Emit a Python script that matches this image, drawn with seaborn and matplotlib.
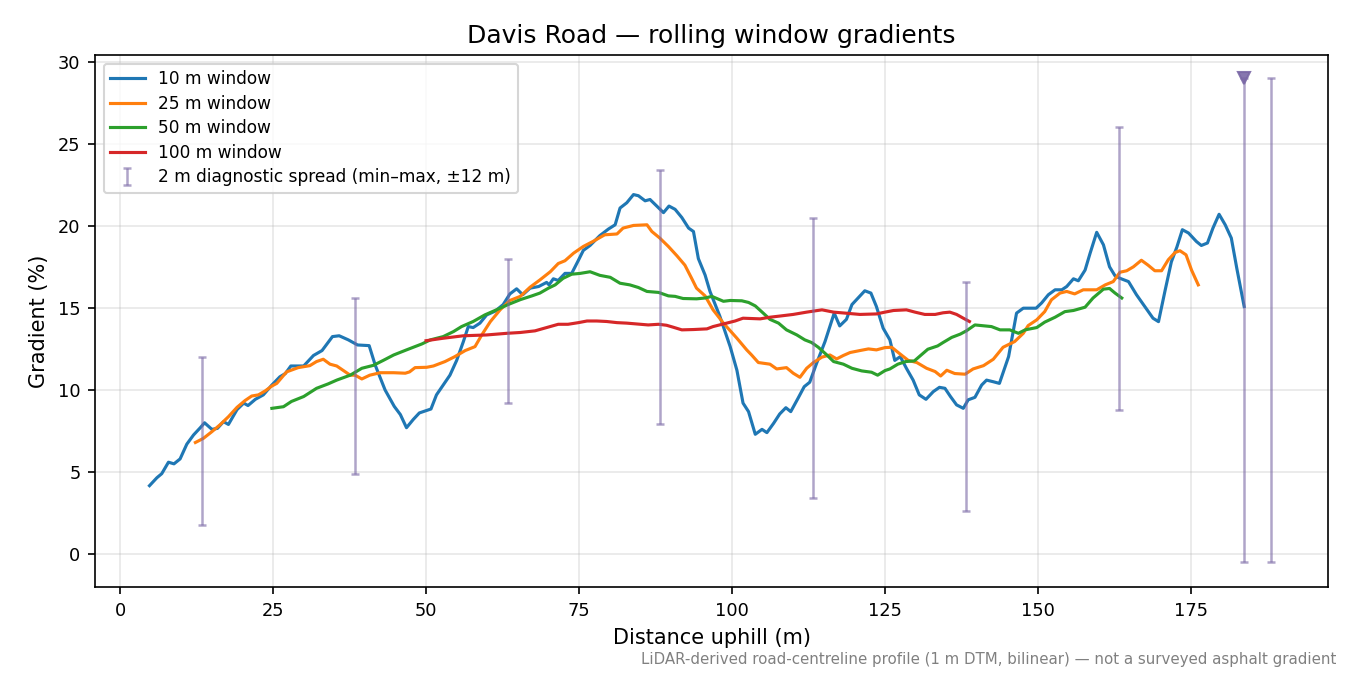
import numpy as np
import pandas as pd
import matplotlib
matplotlib.use("Agg")
import matplotlib.pyplot as plt
import seaborn as sns

# ---------------- data ----------------
w10_x = [4.8, 6.0, 6.8, 7.9, 8.8, 9.8, 10.9, 12.0, 13.1, 13.8,
         15.0, 15.9, 16.9, 17.7, 19.1, 20.2, 20.9, 22.1, 23.4, 24.8,
         26.1, 27.0, 27.9, 30.0, 31.6, 33.0, 34.7, 35.8, 37.3, 38.8,
         40.7, 41.7, 43.3, 44.8, 45.8, 46.8, 47.9, 48.9, 50.8, 51.7,
         52.8, 53.9, 55.0, 56.1, 56.9, 57.7, 58.8, 59.9, 61.3, 62.6,
         63.7, 64.8, 65.8, 67.0, 68.4, 69.7, 70.1, 70.8, 71.6, 72.7,
         73.8, 74.9, 75.7, 76.8, 78.4, 79.8, 80.9, 81.7, 82.8, 83.9,
         84.7, 85.8, 86.6, 87.7, 88.8, 89.7, 90.7, 91.8, 92.9, 93.7,
         94.5, 95.6, 96.4, 98.0, 99.7, 100.8, 101.8, 102.7, 103.8, 104.9,
         105.7, 106.8, 107.8, 108.8, 109.6, 110.8, 111.8, 112.7, 113.8, 115.2,
         116.7, 117.6, 118.7, 119.6, 120.6, 121.7, 122.7, 123.6, 124.7, 125.8,
         126.6, 127.5, 128.5, 129.6, 130.6, 131.7, 132.9, 133.9, 134.8, 135.7,
         136.7, 137.8, 138.6, 139.7, 140.8, 141.6, 142.7, 143.7, 145.2, 146.5,
         147.6, 149.7, 150.6, 151.7, 152.8, 153.9, 154.7, 155.8, 156.6, 157.7,
         158.5, 159.6, 160.7, 161.7, 162.6, 163.4, 164.8, 166.1, 167.8, 168.8,
         169.7, 170.8, 171.8, 172.7, 173.6, 174.6, 175.9, 176.7, 177.7, 178.6,
         179.6, 180.6, 181.6, 182.5, 183.7]
w10_y = [4.17, 4.65, 4.9, 5.6, 5.5, 5.8, 6.7, 7.26, 7.7, 8.0,
         7.6, 7.66, 8.07, 7.9, 8.8, 9.2, 9.05, 9.43, 9.7, 10.3,
         10.8, 11.0, 11.46, 11.46, 12.1, 12.4, 13.25, 13.3, 13.05, 12.74,
         12.7, 11.5, 10.0, 9.0, 8.5, 7.7, 8.2, 8.6, 8.84, 9.7,
         10.3, 10.9, 11.8, 12.95, 13.86, 13.8, 14.07, 14.57, 14.8, 15.2,
         15.85, 16.16, 15.8, 16.2, 16.3, 16.55, 16.4, 16.77, 16.67, 17.1,
         17.1, 17.9, 18.5, 18.8, 19.4, 19.8, 20.06, 21.08, 21.4, 21.9,
         21.83, 21.52, 21.6, 21.2, 20.8, 21.2, 21.0, 20.5, 19.86, 19.65,
         18.0, 17.0, 16.0, 14.5, 12.64, 11.2, 9.2, 8.68, 7.3, 7.6,
         7.4, 7.97, 8.54, 8.92, 8.68, 9.5, 10.2, 10.47, 11.6, 12.95,
         14.68, 13.9, 14.3, 15.2, 15.6, 16.04, 15.9, 15.08, 13.76, 13.05,
         11.8, 12.03, 11.32, 10.6, 9.7, 9.43, 9.9, 10.16, 10.1, 9.6,
         9.09, 8.88, 9.4, 9.55, 10.3, 10.6, 10.5, 10.4, 12.03, 14.68,
         14.98, 14.98, 15.3, 15.8, 16.1, 16.1, 16.3, 16.77, 16.65, 17.3,
         18.3, 19.6, 18.84, 17.5, 16.95, 16.8, 16.6, 15.8, 14.9, 14.37,
         14.16, 16.1, 17.8, 18.7, 19.76, 19.56, 19.04, 18.8, 18.95, 19.86,
         20.7, 20.06, 19.25, 17.4, 15.08]

w25_x = [12.3, 13.6, 15.0, 16.3, 17.7, 19.1, 20.4, 21.5, 22.6, 23.7,
         24.8, 25.6, 27.2, 29.1, 31.0, 32.1, 33.2, 34.3, 35.4, 36.5,
         37.6, 38.4, 39.5, 40.8, 42.5, 44.7, 46.6, 47.3, 48.2, 50.1,
         51.2, 53.1, 54.7, 56.4, 58.0, 59.1, 60.5, 62.1, 63.7, 65.4,
         67.0, 68.6, 70.3, 71.6, 72.7, 74.1, 75.7, 77.3, 79.2, 81.2,
         82.2, 83.9, 86.1, 86.9, 88.2, 89.6, 91.0, 92.3, 93.4, 94.2,
         95.6, 96.9, 98.6, 100.8, 102.4, 103.2, 104.3, 106.2, 107.3, 108.9,
         110.0, 111.1, 112.2, 113.3, 114.7, 116.0, 117.1, 118.2, 119.3, 120.9,
         122.3, 123.6, 125.0, 126.1, 127.5, 128.8, 130.2, 131.8, 133.2, 134.1,
         135.1, 136.4, 138.1, 139.4, 141.1, 142.7, 144.3, 146.2, 147.6, 148.4,
         149.8, 151.1, 152.2, 153.6, 154.7, 156.0, 157.4, 159.6, 161.0, 162.3,
         163.4, 164.5, 165.6, 166.9, 168.0, 169.1, 170.2, 171.3, 172.4, 173.2,
         174.2, 175.1, 176.2]
w25_y = [6.8, 7.05, 7.46, 7.87, 8.37, 8.94, 9.35, 9.63, 9.7, 9.94,
         10.24, 10.4, 11.1, 11.36, 11.48, 11.73, 11.87, 11.57, 11.46, 11.18,
         10.9, 10.9, 10.67, 10.9, 11.05, 11.05, 11.02, 11.1, 11.36, 11.38,
         11.46, 11.73, 12.03, 12.4, 12.64, 13.35, 14.16, 14.88, 15.45, 15.7,
         16.26, 16.7, 17.2, 17.7, 17.87, 18.33, 18.74, 19.05, 19.45, 19.5,
         19.86, 20.02, 20.06, 19.65, 19.25, 18.74, 18.17, 17.6, 16.8, 16.2,
         15.73, 14.88, 14.07, 13.15, 12.44, 12.13, 11.67, 11.57, 11.28, 11.36,
         11.02, 10.77, 11.32, 11.67, 12.0, 12.13, 11.89, 12.1, 12.28, 12.4,
         12.5, 12.44, 12.58, 12.6, 12.18, 11.8, 11.67, 11.32, 11.12, 10.85,
         11.2, 11.0, 10.96, 11.28, 11.48, 11.87, 12.6, 12.95, 13.45, 13.92,
         14.27, 14.77, 15.49, 15.9, 16.0, 15.85, 16.1, 16.1, 16.4, 16.6,
         17.17, 17.26, 17.5, 17.9, 17.6, 17.26, 17.26, 17.93, 18.37, 18.48,
         18.23, 17.3, 16.4]

w50_x = [24.8, 26.7, 28.0, 30.0, 32.1, 34.0, 35.4, 37.6, 39.5, 41.4,
         43.0, 44.7, 46.8, 49.3, 50.7, 52.8, 54.5, 55.8, 57.7, 59.6,
         61.5, 63.4, 65.4, 67.3, 68.6, 70.0, 71.1, 72.4, 73.8, 75.2,
         76.8, 78.4, 80.1, 81.7, 83.3, 84.7, 86.1, 88.0, 89.6, 90.7,
         92.0, 94.2, 95.6, 96.7, 98.6, 99.7, 101.6, 102.7, 103.8, 105.1,
         106.2, 107.6, 108.9, 110.6, 111.9, 113.0, 114.1, 115.5, 116.6, 118.2,
         119.6, 121.2, 122.8, 123.8, 125.0, 125.8, 127.1, 128.4, 129.8, 130.6,
         132.0, 133.6, 134.5, 135.9, 137.3, 138.3, 139.7, 142.4, 143.8, 145.4,
         146.8, 147.9, 149.8, 151.1, 152.8, 154.4, 155.8, 157.7, 159.0, 160.7,
         161.7, 162.6, 163.7]
w50_y = [8.88, 8.98, 9.3, 9.6, 10.1, 10.37, 10.6, 10.9, 11.32, 11.5,
         11.8, 12.13, 12.44, 12.8, 13.05, 13.25, 13.56, 13.86, 14.17, 14.57,
         14.88, 15.2, 15.5, 15.73, 15.9, 16.2, 16.4, 16.8, 17.05, 17.1,
         17.2, 16.98, 16.86, 16.5, 16.4, 16.24, 16.0, 15.94, 15.73, 15.7,
         15.57, 15.55, 15.6, 15.7, 15.4, 15.45, 15.43, 15.33, 15.12, 14.68,
         14.3, 14.07, 13.66, 13.35, 13.05, 12.89, 12.6, 12.13, 11.73, 11.57,
         11.32, 11.16, 11.08, 10.9, 11.18, 11.28, 11.57, 11.73, 11.77, 12.03,
         12.48, 12.68, 12.89, 13.2, 13.4, 13.6, 13.96, 13.86, 13.66, 13.66,
         13.45, 13.66, 13.8, 14.13, 14.43, 14.77, 14.84, 15.04, 15.6, 16.14,
         16.18, 15.9, 15.6]

w100_x = [50.0, 52.8, 56.1, 59.9, 63.2, 65.4, 67.8, 69.7, 71.6, 73.2,
          74.9, 76.3, 77.9, 79.5, 81.2, 82.8, 84.4, 86.3, 88.0, 89.3,
          90.4, 91.8, 93.7, 95.9, 96.9, 98.6, 100.5, 101.8, 104.6, 106.2,
          107.8, 110.0, 112.2, 114.7, 116.6, 118.5, 120.9, 123.6, 125.0, 126.4,
          128.5, 129.9, 131.5, 133.2, 134.5, 135.6, 136.7, 137.8, 138.8]
w100_y = [13.0, 13.15, 13.3, 13.35, 13.45, 13.5, 13.6, 13.8, 14.0, 14.0,
          14.1, 14.2, 14.2, 14.17, 14.1, 14.07, 14.02, 13.96, 14.0, 13.94,
          13.82, 13.66, 13.68, 13.72, 13.86, 14.02, 14.2, 14.37, 14.33, 14.43,
          14.5, 14.6, 14.74, 14.88, 14.74, 14.68, 14.6, 14.63, 14.74, 14.84,
          14.88, 14.74, 14.6, 14.6, 14.7, 14.74, 14.6, 14.37, 14.17]

spread_x = [13.4, 38.4, 63.4, 88.3, 113.3, 138.3, 163.3, 183.6, 188.1]
spread_lo = [1.8, 4.9, 9.2, 7.9, 3.4, 2.6, 8.8, -0.5, -0.5]
spread_hi = [12.0, 15.6, 18.0, 23.4, 20.5, 16.6, 26.0, 29.0, 29.0]
clip_x = [183.6]
clip_y = [29.0]

series_names = ["10 m window", "25 m window", "50 m window", "100 m window"]
series_colors = ["#1f77b4", "#ff7f0e", "#2ca02c", "#d62728"]

# ---------------- plot ----------------
fig = plt.figure(figsize=(9, 4.5), dpi=150)
ax = fig.add_axes([0.0704, 0.1304, 0.9133, 0.7881])

for xs, ys, name, col in zip([w10_x, w25_x, w50_x, w100_x],
                             [w10_y, w25_y, w50_y, w100_y],
                             series_names, series_colors):
    df = pd.DataFrame({"x": xs, "y": ys})
    sns.lineplot(data=df, x="x", y="y", ax=ax, color=col, linewidth=1.5,
                 label=name, sort=False, estimator=None)

sx = np.array(spread_x)
lo = np.array(spread_lo)
hi = np.array(spread_hi)
mid = (lo + hi) / 2
ax.errorbar(sx, mid, yerr=[mid - lo, hi - mid], fmt="none", ecolor="#7a68a6",
            alpha=0.6, elinewidth=1.2, capsize=2, capthick=1.2,
            label="2 m diagnostic spread (min–max, ±12 m)")
ax.plot(clip_x, clip_y, linestyle="none", marker="v", markersize=6,
        color="#7a68a6", alpha=0.9)

ax.set_xlim(-4.1, 197.4)
ax.set_ylim(-2.0, 30.4)
ax.set_xticks([0, 25, 50, 75, 100, 125, 150, 175])
ax.set_yticks([0, 5, 10, 15, 20, 25, 30])
ax.tick_params(labelsize=8.5)
ax.grid(True, alpha=0.3)
ax.set_axisbelow(True)
ax.set_xlabel("Distance uphill (m)", fontsize=10)
ax.set_ylabel("Gradient (%)", fontsize=10)
ax.set_title("Davis Road — rolling window gradients", fontsize=12)
ax.legend(loc="upper left", fontsize=8.2, labelspacing=0.38)

fig.text(0.99, 0.012,
         "LiDAR-derived road-centreline profile (1 m DTM, bilinear) — not a surveyed asphalt gradient",
         ha="right", va="bottom", fontsize=7.2, color="gray")

fig.savefig("out.png", dpi=150)
